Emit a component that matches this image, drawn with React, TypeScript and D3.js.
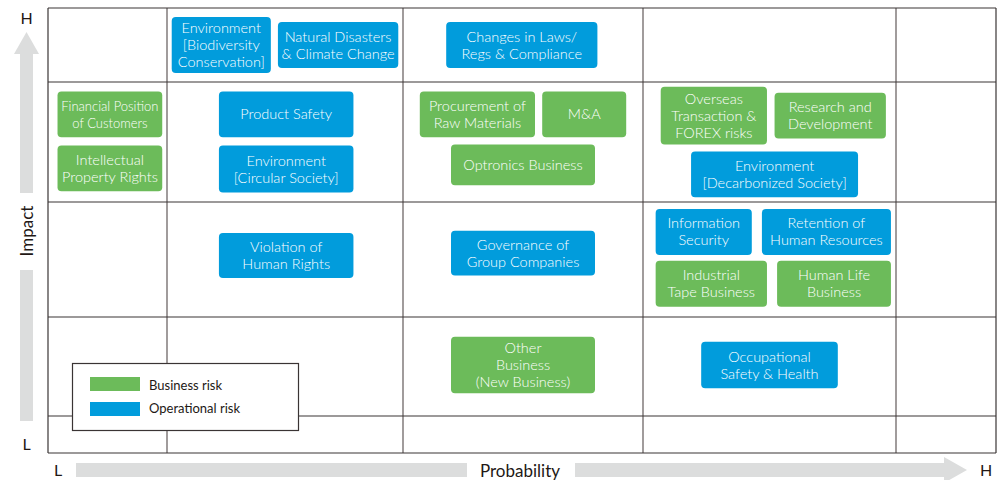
import React, { useRef, useEffect } from "react";
import * as d3 from "d3";

// grid boundaries in "cell" units (0..5) on both axes
const probabilityBreaks = [0, 1, 2, 3, 4, 5];
const impactBreaks = [0, 1, 2, 3, 4, 5];

const categories = ["Business risk", "Operational risk"];
const categoryColors = ["#6cbb5a", "#019cdc"];

// each risk: label lines, category, probability range and impact range (cell units)
const riskLabels = [
  ["Environment", "[Biodiversity", "Conservation]"],
  ["Natural Disasters", "& Climate Change"],
  ["Changes in Laws/", "Regs & Compliance"],
  ["Financial Position", "of Customers"],
  ["Intellectual", "Property Rights"],
  ["Product Safety"],
  ["Environment", "[Circular Society]"],
  ["Procurement of", "Raw Materials"],
  ["M&A"],
  ["Optronics Business"],
  ["Overseas", "Transaction &", "FOREX risks"],
  ["Research and", "Development"],
  ["Environment", "[Decarbonized Society]"],
  ["Violation of", "Human Rights"],
  ["Governance of", "Group Companies"],
  ["Information", "Security"],
  ["Retention of", "Human Resources"],
  ["Industrial", "Tape Business"],
  ["Human Life", "Business"],
  ["Other", "Business", "(New Business)"],
  ["Occupational", "Safety & Health"],
];
const riskCategory = [1, 1, 1, 0, 0, 1, 1, 0, 0, 0, 0, 0, 1, 1, 1, 1, 1, 0, 0, 0, 1];
const probFrom = [1.02, 1.47, 2.18, 0.08, 0.08, 1.22, 1.22, 2.07, 2.58, 2.2, 3.07, 3.52, 3.19, 1.22, 2.2, 3.05, 3.47, 3.05, 3.53, 2.2, 3.23];
const probTo = [1.44, 1.98, 2.81, 0.96, 0.96, 1.79, 1.79, 2.55, 2.93, 2.8, 3.49, 3.96, 3.85, 1.79, 2.8, 3.43, 3.98, 3.49, 3.98, 2.8, 3.77];
const impactFrom = [4.12, 4.19, 4.19, 3.54, 3.09, 3.54, 3.08, 3.54, 3.54, 3.14, 3.48, 3.53, 3.04, 2.34, 2.36, 2.54, 2.54, 2.09, 2.09, 1.23, 1.28];
const impactTo = [4.88, 4.81, 4.81, 3.92, 3.47, 3.92, 3.47, 3.92, 3.92, 3.48, 3.96, 3.91, 3.42, 2.73, 2.75, 2.94, 2.94, 2.49, 2.49, 1.8, 1.75];

const FONT = "Lato, 'Open Sans', sans-serif";

const App = () => {
  const svgRef = useRef<SVGSVGElement>(null);

  useEffect(() => {
    const svg = d3.select(svgRef.current);
    svg.selectAll("*").remove();

    // piecewise scales, columns/rows are not equal
    const x = d3.scaleLinear().domain(probabilityBreaks).range([48, 167, 403, 643, 896, 996]);
    const y = d3.scaleLinear().domain(impactBreaks).range([453, 416, 317, 202, 82, 8]);

    const grey = "#dcdddd";
    const ink = "#3a3434";

    // axis arrows
    const arrows = svg.append("g").attr("fill", grey);
    arrows.append("rect").attr("x", 20).attr("y", 53).attr("width", 13).attr("height", 140);
    arrows.append("path").attr("d", "M14,54 L26.5,32 L39,54 Z");
    arrows.append("rect").attr("x", 20).attr("y", 270).attr("width", 13).attr("height", 151);
    arrows.append("rect").attr("x", 76).attr("y", 463).attr("width", 391).attr("height", 14);
    arrows.append("rect").attr("x", 575).attr("y", 463).attr("width", 370).attr("height", 14);
    arrows.append("path").attr("d", "M944,457 L967,470 L944,483 Z");

    const axisText = svg.append("g").attr("font-family", FONT).attr("fill", "#231815").attr("font-size", 16);
    axisText.append("text").attr("x", 26.5).attr("y", 24).attr("text-anchor", "middle").text("H");
    axisText.append("text").attr("x", 26.5).attr("y", 450).attr("text-anchor", "middle").text("L");
    axisText.append("text").attr("x", 58).attr("y", 476).attr("text-anchor", "middle").text("L");
    axisText.append("text").attr("x", 986).attr("y", 476).attr("text-anchor", "middle").text("H");
    axisText
      .append("text")
      .attr("x", 520)
      .attr("y", 477)
      .attr("text-anchor", "middle")
      .attr("font-size", 17)
      .text("Probability");
    axisText
      .append("text")
      .attr("transform", "translate(33,231) rotate(-90)")
      .attr("text-anchor", "middle")
      .attr("font-size", 17)
      .text("Impact");

    // grid
    const grid = svg.append("g").attr("stroke", ink).attr("stroke-width", 1.2).attr("fill", "none");
    grid
      .selectAll("line.v")
      .data(probabilityBreaks)
      .join("line")
      .attr("x1", (d) => x(d))
      .attr("x2", (d) => x(d))
      .attr("y1", y(5))
      .attr("y2", y(0))
      .attr("stroke", (d) => (d === 0 || d === 5 ? ink : "#625a5a"));
    grid
      .selectAll("line.h")
      .data(impactBreaks)
      .join("line")
      .attr("class", "h")
      .attr("x1", x(0))
      .attr("x2", x(5))
      .attr("y1", (d) => y(d))
      .attr("y2", (d) => y(d));

    // risk boxes
    const risks = riskLabels.map((lines, i) => ({
      lines,
      cat: riskCategory[i],
      p0: probFrom[i],
      p1: probTo[i],
      i0: impactFrom[i],
      i1: impactTo[i],
    }));

    const boxes = svg
      .append("g")
      .selectAll("g")
      .data(risks)
      .join("g");

    boxes
      .append("rect")
      .attr("x", (d) => x(d.p0))
      .attr("y", (d) => y(d.i1))
      .attr("width", (d) => x(d.p1) - x(d.p0))
      .attr("height", (d) => y(d.i0) - y(d.i1))
      .attr("rx", 4)
      .attr("fill", (d) => categoryColors[d.cat]);

    boxes.each(function (d) {
      const g = d3.select(this);
      const cx = (x(d.p0) + x(d.p1)) / 2;
      const cy = (y(d.i0) + y(d.i1)) / 2;
      const small = d.lines[0] === "Financial Position";
      const lh = 17;
      g.selectAll("text")
        .data(d.lines)
        .join("text")
        .attr("x", cx)
        .attr("y", (_, k) => cy + (k - (d.lines.length - 1) / 2) * lh + 5)
        .attr("text-anchor", "middle")
        .attr("font-family", FONT)
        .attr("font-weight", 300)
        .attr("font-size", small ? 13 : 14.5)
        .attr("fill", "#ffffff")
        .text((t) => t);
    });

    // legend
    const legend = svg.append("g");
    legend
      .append("rect")
      .attr("x", 72.5)
      .attr("y", 363.5)
      .attr("width", 226)
      .attr("height", 67)
      .attr("fill", "#ffffff")
      .attr("stroke", ink)
      .attr("stroke-width", 1.2);
    categories.forEach((c, i) => {
      legend
        .append("rect")
        .attr("x", 90)
        .attr("y", 377 + i * 25)
        .attr("width", 50)
        .attr("height", 14)
        .attr("fill", categoryColors[i]);
      legend
        .append("text")
        .attr("x", 149)
        .attr("y", 390 + i * 23)
        .attr("font-family", FONT)
        .attr("font-size", 13)
        .attr("fill", "#231815")
        .text(c);
    });
  }, []);

  return (
    <svg
      ref={svgRef}
      width={1000}
      height={480}
      style={{ position: "absolute", left: 0, top: 0, display: "block", background: "#fff" }}
    ></svg>
  );
};

export default App;
